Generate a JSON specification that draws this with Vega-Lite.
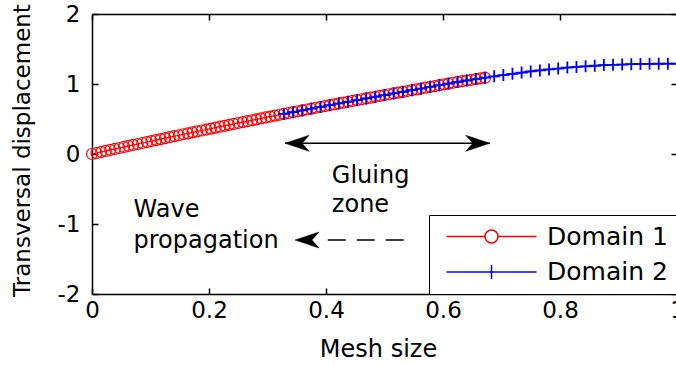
{
  "$schema": "https://vega.github.io/schema/vega-lite/v6.json",
  "width": 585,
  "height": 280,
  "autosize": {"type": "none"},
  "padding": {"left": 92, "top": 14, "right": -1, "bottom": 71},
  "background": "white",
  "config": {"view": {"stroke": null}, "font": "DejaVu Sans"},
  "datasets": {
    "curves": [
      {"x": 0, "y": 0, "domain": "Domain 1"},
      {"x": 0.0078125, "y": 0.0145, "domain": "Domain 1"},
      {"x": 0.015625, "y": 0.029, "domain": "Domain 1"},
      {"x": 0.0234375, "y": 0.0435, "domain": "Domain 1"},
      {"x": 0.03125, "y": 0.058, "domain": "Domain 1"},
      {"x": 0.0390625, "y": 0.072, "domain": "Domain 1"},
      {"x": 0.046875, "y": 0.086, "domain": "Domain 1"},
      {"x": 0.0546875, "y": 0.1005, "domain": "Domain 1"},
      {"x": 0.0625, "y": 0.115, "domain": "Domain 1"},
      {"x": 0.0703125, "y": 0.129, "domain": "Domain 1"},
      {"x": 0.078125, "y": 0.143, "domain": "Domain 1"},
      {"x": 0.0859375, "y": 0.157, "domain": "Domain 1"},
      {"x": 0.09375, "y": 0.171, "domain": "Domain 1"},
      {"x": 0.1015625, "y": 0.185, "domain": "Domain 1"},
      {"x": 0.109375, "y": 0.199, "domain": "Domain 1"},
      {"x": 0.1171875, "y": 0.213, "domain": "Domain 1"},
      {"x": 0.125, "y": 0.227, "domain": "Domain 1"},
      {"x": 0.1328125, "y": 0.2405, "domain": "Domain 1"},
      {"x": 0.140625, "y": 0.254, "domain": "Domain 1"},
      {"x": 0.1484375, "y": 0.268, "domain": "Domain 1"},
      {"x": 0.15625, "y": 0.282, "domain": "Domain 1"},
      {"x": 0.1640625, "y": 0.2955, "domain": "Domain 1"},
      {"x": 0.171875, "y": 0.309, "domain": "Domain 1"},
      {"x": 0.1796875, "y": 0.3225, "domain": "Domain 1"},
      {"x": 0.1875, "y": 0.336, "domain": "Domain 1"},
      {"x": 0.1953125, "y": 0.3495, "domain": "Domain 1"},
      {"x": 0.203125, "y": 0.363, "domain": "Domain 1"},
      {"x": 0.2109375, "y": 0.3765, "domain": "Domain 1"},
      {"x": 0.21875, "y": 0.39, "domain": "Domain 1"},
      {"x": 0.2265625, "y": 0.403, "domain": "Domain 1"},
      {"x": 0.234375, "y": 0.416, "domain": "Domain 1"},
      {"x": 0.2421875, "y": 0.4295, "domain": "Domain 1"},
      {"x": 0.25, "y": 0.443, "domain": "Domain 1"},
      {"x": 0.2578125, "y": 0.456, "domain": "Domain 1"},
      {"x": 0.265625, "y": 0.469, "domain": "Domain 1"},
      {"x": 0.2734375, "y": 0.482, "domain": "Domain 1"},
      {"x": 0.28125, "y": 0.495, "domain": "Domain 1"},
      {"x": 0.2890625, "y": 0.5085, "domain": "Domain 1"},
      {"x": 0.296875, "y": 0.522, "domain": "Domain 1"},
      {"x": 0.3046875, "y": 0.535, "domain": "Domain 1"},
      {"x": 0.3125, "y": 0.548, "domain": "Domain 1"},
      {"x": 0.3203125, "y": 0.5605, "domain": "Domain 1"},
      {"x": 0.328125, "y": 0.573, "domain": "Domain 1"},
      {"x": 0.3359375, "y": 0.5855, "domain": "Domain 1"},
      {"x": 0.34375, "y": 0.598, "domain": "Domain 1"},
      {"x": 0.3515625, "y": 0.6105, "domain": "Domain 1"},
      {"x": 0.359375, "y": 0.623, "domain": "Domain 1"},
      {"x": 0.3671875, "y": 0.6355, "domain": "Domain 1"},
      {"x": 0.375, "y": 0.648, "domain": "Domain 1"},
      {"x": 0.3828125, "y": 0.6605, "domain": "Domain 1"},
      {"x": 0.390625, "y": 0.673, "domain": "Domain 1"},
      {"x": 0.3984375, "y": 0.685, "domain": "Domain 1"},
      {"x": 0.40625, "y": 0.697, "domain": "Domain 1"},
      {"x": 0.4140625, "y": 0.7095, "domain": "Domain 1"},
      {"x": 0.421875, "y": 0.722, "domain": "Domain 1"},
      {"x": 0.4296875, "y": 0.734, "domain": "Domain 1"},
      {"x": 0.4375, "y": 0.746, "domain": "Domain 1"},
      {"x": 0.4453125, "y": 0.758, "domain": "Domain 1"},
      {"x": 0.453125, "y": 0.77, "domain": "Domain 1"},
      {"x": 0.4609375, "y": 0.782, "domain": "Domain 1"},
      {"x": 0.46875, "y": 0.794, "domain": "Domain 1"},
      {"x": 0.4765625, "y": 0.806, "domain": "Domain 1"},
      {"x": 0.484375, "y": 0.818, "domain": "Domain 1"},
      {"x": 0.4921875, "y": 0.83, "domain": "Domain 1"},
      {"x": 0.5, "y": 0.842, "domain": "Domain 1"},
      {"x": 0.5078125, "y": 0.8535, "domain": "Domain 1"},
      {"x": 0.515625, "y": 0.865, "domain": "Domain 1"},
      {"x": 0.5234375, "y": 0.8765, "domain": "Domain 1"},
      {"x": 0.53125, "y": 0.888, "domain": "Domain 1"},
      {"x": 0.5390625, "y": 0.9, "domain": "Domain 1"},
      {"x": 0.546875, "y": 0.912, "domain": "Domain 1"},
      {"x": 0.5546875, "y": 0.9235, "domain": "Domain 1"},
      {"x": 0.5625, "y": 0.935, "domain": "Domain 1"},
      {"x": 0.5703125, "y": 0.947, "domain": "Domain 1"},
      {"x": 0.578125, "y": 0.959, "domain": "Domain 1"},
      {"x": 0.5859375, "y": 0.971, "domain": "Domain 1"},
      {"x": 0.59375, "y": 0.983, "domain": "Domain 1"},
      {"x": 0.6015625, "y": 0.9945, "domain": "Domain 1"},
      {"x": 0.609375, "y": 1.006, "domain": "Domain 1"},
      {"x": 0.6171875, "y": 1.018, "domain": "Domain 1"},
      {"x": 0.625, "y": 1.03, "domain": "Domain 1"},
      {"x": 0.6328125, "y": 1.04, "domain": "Domain 1"},
      {"x": 0.640625, "y": 1.05, "domain": "Domain 1"},
      {"x": 0.6484375, "y": 1.06, "domain": "Domain 1"},
      {"x": 0.65625, "y": 1.07, "domain": "Domain 1"},
      {"x": 0.6640625, "y": 1.08, "domain": "Domain 1"},
      {"x": 0.671875, "y": 1.09, "domain": "Domain 1"},
      {"x": 0.328125, "y": 0.573, "domain": "Domain 2"},
      {"x": 0.34375, "y": 0.598, "domain": "Domain 2"},
      {"x": 0.359375, "y": 0.623, "domain": "Domain 2"},
      {"x": 0.375, "y": 0.648, "domain": "Domain 2"},
      {"x": 0.390625, "y": 0.673, "domain": "Domain 2"},
      {"x": 0.40625, "y": 0.697, "domain": "Domain 2"},
      {"x": 0.421875, "y": 0.722, "domain": "Domain 2"},
      {"x": 0.4375, "y": 0.746, "domain": "Domain 2"},
      {"x": 0.453125, "y": 0.77, "domain": "Domain 2"},
      {"x": 0.46875, "y": 0.794, "domain": "Domain 2"},
      {"x": 0.484375, "y": 0.818, "domain": "Domain 2"},
      {"x": 0.5, "y": 0.842, "domain": "Domain 2"},
      {"x": 0.515625, "y": 0.865, "domain": "Domain 2"},
      {"x": 0.53125, "y": 0.888, "domain": "Domain 2"},
      {"x": 0.546875, "y": 0.912, "domain": "Domain 2"},
      {"x": 0.5625, "y": 0.935, "domain": "Domain 2"},
      {"x": 0.578125, "y": 0.959, "domain": "Domain 2"},
      {"x": 0.59375, "y": 0.983, "domain": "Domain 2"},
      {"x": 0.609375, "y": 1.006, "domain": "Domain 2"},
      {"x": 0.625, "y": 1.03, "domain": "Domain 2"},
      {"x": 0.640625, "y": 1.05, "domain": "Domain 2"},
      {"x": 0.65625, "y": 1.07, "domain": "Domain 2"},
      {"x": 0.671875, "y": 1.09, "domain": "Domain 2"},
      {"x": 0.6875, "y": 1.11, "domain": "Domain 2"},
      {"x": 0.703125, "y": 1.128, "domain": "Domain 2"},
      {"x": 0.71875, "y": 1.145, "domain": "Domain 2"},
      {"x": 0.734375, "y": 1.163, "domain": "Domain 2"},
      {"x": 0.75, "y": 1.18, "domain": "Domain 2"},
      {"x": 0.765625, "y": 1.194, "domain": "Domain 2"},
      {"x": 0.78125, "y": 1.208, "domain": "Domain 2"},
      {"x": 0.796875, "y": 1.221, "domain": "Domain 2"},
      {"x": 0.8125, "y": 1.235, "domain": "Domain 2"},
      {"x": 0.828125, "y": 1.244, "domain": "Domain 2"},
      {"x": 0.84375, "y": 1.253, "domain": "Domain 2"},
      {"x": 0.859375, "y": 1.261, "domain": "Domain 2"},
      {"x": 0.875, "y": 1.27, "domain": "Domain 2"},
      {"x": 0.890625, "y": 1.274, "domain": "Domain 2"},
      {"x": 0.90625, "y": 1.278, "domain": "Domain 2"},
      {"x": 0.921875, "y": 1.283, "domain": "Domain 2"},
      {"x": 0.9375, "y": 1.287, "domain": "Domain 2"},
      {"x": 0.953125, "y": 1.288, "domain": "Domain 2"},
      {"x": 0.96875, "y": 1.289, "domain": "Domain 2"},
      {"x": 0.984375, "y": 1.29, "domain": "Domain 2"},
      {"x": 1, "y": 1.29, "domain": "Domain 2"}
    ],
    "notes": [
      {"x": 0.41, "y": -0.414, "label": "Gluing"},
      {"x": 0.41, "y": -0.829, "label": "zone"},
      {"x": 0.071, "y": -0.9, "label": "Wave"},
      {"x": 0.071, "y": -1.343, "label": "propagation"}
    ],
    "solidArrow": [{"x": 0.33, "x2": 0.68, "y": 0.153}],
    "dashedArrow": [{"x": 0.403, "x2": 0.533, "y": -1.229}],
    "leftHeads": [{"x": 0.33, "y": 0.153}, {"x": 0.347, "y": -1.229}],
    "rightHeads": [{"x": 0.68, "y": 0.153}]
  },
  "resolve": {"axis": {"x": "independent", "y": "independent"}},
  "layer": [
    {
      "data": {"name": "curves"},
      "transform": [{"filter": "datum.domain === 'Domain 1'"}],
      "mark": {"type": "line", "color": "#ff0000", "strokeWidth": 1.2},
      "encoding": {
        "x": {"field": "x", "type": "quantitative", "scale": {"domain": [0, 1], "nice": false, "zero": false},
          "axis": {"orient": "bottom", "values": [0, 0.2, 0.4, 0.6, 0.8, 1], "format": "~g", "title": "Mesh size",
            "titleFont": "DejaVu Sans", "titleFontSize": 24, "titleFontWeight": "normal", "titleColor": "black",
            "titleX": 286, "titleY": 62, "titleAlign": "center", "titleBaseline": "alphabetic",
            "labelFont": "DejaVu Sans", "labelFontSize": 23, "labelColor": "black", "labelPadding": 11,
            "labelFlush": false, "labelOverlap": false, "labelBound": false,
            "tickSize": -6, "tickColor": "black", "tickWidth": 1.5, "domainColor": "black", "domainWidth": 1.5, "grid": false}},
        "y": {"field": "y", "type": "quantitative", "scale": {"domain": [-2, 2], "nice": false, "zero": false},
          "axis": {"orient": "left", "values": [-2, -1, 0, 1, 2], "labelExpr": "'' + datum.value", "title": "Transversal displacement",
            "titleFont": "DejaVu Sans", "titleFontSize": 23, "titleFontWeight": "normal", "titleColor": "black",
            "titleX": -70, "titleY": 136, "titleAngle": 270, "titleAlign": "center", "titleBaseline": "middle",
            "labelFont": "DejaVu Sans", "labelFontSize": 23, "labelColor": "black", "labelPadding": 18,
            "labelFlush": false, "labelOverlap": false, "labelBound": false,
            "tickSize": -6, "tickColor": "black", "tickWidth": 1.5, "domainColor": "black", "domainWidth": 1.5, "grid": false}}
      }
    },
    {
      "data": {"name": "curves"},
      "transform": [{"filter": "datum.domain === 'Domain 2'"}],
      "mark": {"type": "line", "color": "#0000ff", "strokeWidth": 1.6},
      "encoding": {
        "x": {"field": "x", "type": "quantitative", "scale": {"domain": [0, 1], "nice": false, "zero": false},
          "axis": {"orient": "top", "values": [0, 0.2, 0.4, 0.6, 0.8, 1], "labels": false, "title": null,
            "tickSize": -6, "tickColor": "black", "tickWidth": 1.5, "domainColor": "black", "domainWidth": 1.5, "grid": false}},
        "y": {"field": "y", "type": "quantitative", "scale": {"domain": [-2, 2], "nice": false, "zero": false},
          "axis": {"orient": "right", "values": [-2, -1, 0, 1, 2], "labels": false, "title": null,
            "tickSize": -6, "tickColor": "black", "tickWidth": 1.5, "domainColor": "black", "domainWidth": 1.5, "grid": false}}
      }
    },
    {
      "data": {"name": "curves"},
      "mark": {"type": "point", "filled": false, "opacity": 1},
      "encoding": {
        "x": {"field": "x", "type": "quantitative", "scale": {"domain": [0, 1], "nice": false, "zero": false}, "axis": null},
        "y": {"field": "y", "type": "quantitative", "scale": {"domain": [-2, 2], "nice": false, "zero": false}, "axis": null},
        "shape": {"condition": {"test": "datum.domain === 'Domain 1'", "value": "circle"}, "value": "M0,-1V1M-1,0H1"},
        "color": {"condition": {"test": "datum.domain === 'Domain 1'", "value": "#ff0000"}, "value": "#0000ff"},
        "size": {"condition": {"test": "datum.domain === 'Domain 1'", "value": 121}, "value": 144},
        "strokeWidth": {"condition": {"test": "datum.domain === 'Domain 1'", "value": 1.2}, "value": 1.8}
      }
    },
    {
      "data": {"name": "curves"},
      "mark": {"type": "point", "filled": false, "size": 0, "strokeWidth": 1.5},
      "encoding": {
        "x": {"field": "x", "type": "quantitative", "scale": {"domain": [0, 1], "nice": false, "zero": false}, "axis": null},
        "y": {"field": "y", "type": "quantitative", "scale": {"domain": [-2, 2], "nice": false, "zero": false}, "axis": null},
        "color": {"field": "domain", "type": "nominal",
          "scale": {"domain": ["Domain 1", "Domain 2"], "range": ["#ff0000", "#0000ff"]},
          "legend": {"orient": "bottom-right", "offset": 0, "title": null, "padding": 9, "rowPadding": 9.5,
            "strokeColor": "black", "fillColor": "white", "symbolSize": 400, "symbolOffset": 41, "labelOffset": 43,
            "symbolStrokeWidth": 1.5, "symbolOpacity": 1, "labelFont": "DejaVu Sans", "labelFontSize": 25, "labelColor": "black"}},
        "shape": {"field": "domain", "type": "nominal",
          "scale": {"domain": ["Domain 1", "Domain 2"], "range": [
            "M-4.5,0H-0.65M0.65,0H4.5M0.65,0C0.65,0.359,0.359,0.65,0,0.65C-0.359,0.65,-0.65,0.359,-0.65,0C-0.65,-0.359,-0.359,-0.65,0,-0.65C0.359,-0.65,0.65,-0.359,0.65,0Z",
            "M-4.5,0H4.5M0,-0.7V0.7"]},
          "legend": {"orient": "bottom-right", "offset": 0, "title": null, "padding": 9, "rowPadding": 9.5,
            "strokeColor": "black", "fillColor": "white", "symbolSize": 400, "symbolOffset": 41, "labelOffset": 43,
            "symbolStrokeWidth": 1.5, "symbolOpacity": 1, "labelFont": "DejaVu Sans", "labelFontSize": 25, "labelColor": "black"}}
      }
    },
    {
      "data": {"name": "solidArrow"},
      "mark": {"type": "rule", "color": "black", "strokeWidth": 1.5},
      "encoding": {
        "x": {"field": "x", "type": "quantitative", "scale": {"domain": [0, 1], "nice": false, "zero": false}, "axis": null},
        "x2": {"field": "x2"},
        "y": {"field": "y", "type": "quantitative", "scale": {"domain": [-2, 2], "nice": false, "zero": false}, "axis": null}
      }
    },
    {
      "data": {"name": "dashedArrow"},
      "mark": {"type": "rule", "color": "black", "strokeWidth": 1.5, "strokeDash": [18, 11]},
      "encoding": {
        "x": {"field": "x", "type": "quantitative", "scale": {"domain": [0, 1], "nice": false, "zero": false}, "axis": null},
        "x2": {"field": "x2"},
        "y": {"field": "y", "type": "quantitative", "scale": {"domain": [-2, 2], "nice": false, "zero": false}, "axis": null}
      }
    },
    {
      "data": {"name": "leftHeads"},
      "mark": {"type": "point", "shape": "M0,0L4.8,-1.6L3.4,0L4.8,1.6Z", "size": 100, "filled": true, "color": "black", "opacity": 1, "stroke": "black", "strokeWidth": 0.5},
      "encoding": {
        "x": {"field": "x", "type": "quantitative", "scale": {"domain": [0, 1], "nice": false, "zero": false}, "axis": null},
        "y": {"field": "y", "type": "quantitative", "scale": {"domain": [-2, 2], "nice": false, "zero": false}, "axis": null}
      }
    },
    {
      "data": {"name": "rightHeads"},
      "mark": {"type": "point", "shape": "M0,0L-4.8,-1.6L-3.4,0L-4.8,1.6Z", "size": 100, "filled": true, "color": "black", "opacity": 1, "stroke": "black", "strokeWidth": 0.5},
      "encoding": {
        "x": {"field": "x", "type": "quantitative", "scale": {"domain": [0, 1], "nice": false, "zero": false}, "axis": null},
        "y": {"field": "y", "type": "quantitative", "scale": {"domain": [-2, 2], "nice": false, "zero": false}, "axis": null}
      }
    },
    {
      "data": {"name": "notes"},
      "mark": {"type": "text", "align": "left", "baseline": "alphabetic", "font": "DejaVu Sans", "fontSize": 24, "color": "black"},
      "encoding": {
        "x": {"field": "x", "type": "quantitative", "scale": {"domain": [0, 1], "nice": false, "zero": false}, "axis": null},
        "y": {"field": "y", "type": "quantitative", "scale": {"domain": [-2, 2], "nice": false, "zero": false}, "axis": null},
        "text": {"field": "label", "type": "nominal"}
      }
    }
  ]
}
